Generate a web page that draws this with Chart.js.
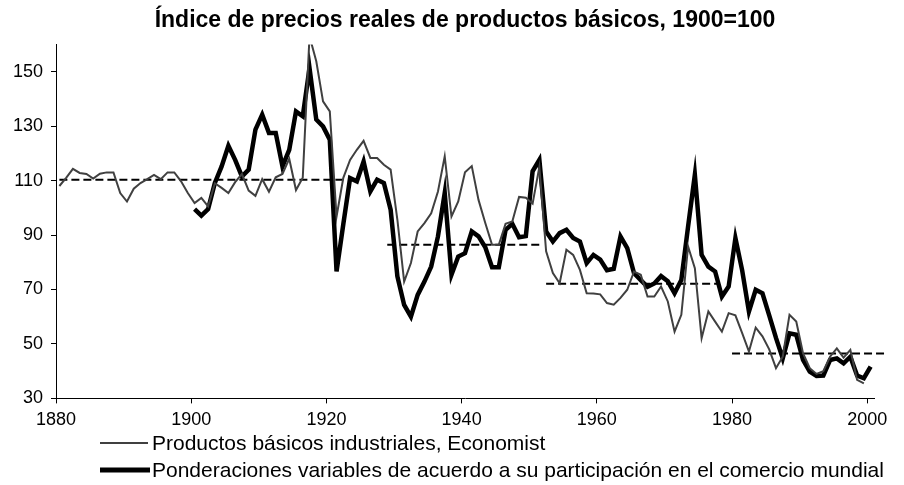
<!DOCTYPE html>
<html>
<head>
<meta charset="utf-8">
<script src="https://cdn.jsdelivr.net/npm/chart.js@4/dist/chart.umd.min.js"></script>
<style>
    html, body { margin: 0; padding: 0; background: #fff; }
    #wrap { width: 904px; height: 485px; }
</style>
</head>
<body>
<div id="wrap"><canvas id="chart" width="904" height="485"></canvas></div>
<script>
const firstYear = 1880;
const xTicks = [1880, 1900, 1920, 1940, 1960, 1980, 2000];
const yTicks = [30, 50, 70, 90, 110, 130, 150];

// Productos básicos industriales, Economist (1880-1999)
const economist = [
    108, 111, 114.3, 112.8, 112.4, 110.7, 112.5, 113, 113, 105.4,
    102.3, 107, 109.1, 110.5, 112.1, 110.5, 113, 113, 109.7, 105.4,
    101.7, 103.6, 100.5, 109, 107.3, 105.4, 109.4, 112.4, 106.3, 104.4,
    110.5, 105.9, 111.2, 112.4, 118, 106.5, 111, 163, 153.8, 139.1,
    135.4, 96.8, 111, 117.6, 121.3, 124.6, 118.3, 118.3, 115.8, 114,
    95.6, 72.9, 79.7, 91.3, 94.4, 98, 106, 118.9, 96.8, 102.3,
    113, 115.3, 102.9, 94.4, 86.4, 86.4, 94.1, 95, 104, 103.7,
    101.5, 115, 84, 76, 72.3, 84.6, 82.7, 77.2, 68.6, 68.5,
    68.2, 65, 64.4, 66.9, 69.9, 76.6, 75.4, 67.4, 67.4, 71.1,
    65.6, 54.5, 60.7, 85.8, 77.8, 52.1, 61.9, 58.2, 54.5, 61.3,
    60.5, 54, 47.2, 56, 52.8, 48, 41.1, 45.3, 60.7, 58.2,
    46.6, 41.1, 39, 40, 45.3, 48.4, 45, 47.8, 36.8, 35.5,
    null
];

// Ponderaciones variables (1900-2000)
const weighted = [
    null, null, null, null, null, null, null, null, null, null,
    null, null, null, null, null, null, null, null, null, null,
    99.5, 97.1, 99.5, 109.1, 115.2, 122.8, 117.6, 111.5, 114, 128.7,
    134.2, 127.5, 127.5, 115.2, 121.3, 135.4, 133.6, 151.3, 132.4, 129.9,
    125, 76.6, 94, 110.9, 109.7, 117, 106, 110.3, 109.1, 99.3,
    74.8, 64.3, 60, 68, 72.9, 78.4, 89.5, 105.4, 75.4, 82.1,
    83.3, 91.3, 89.5, 85.5, 78.2, 78.2, 91.9, 94.1, 89.2, 89.6,
    113.4, 117.6, 91.3, 87.6, 90.7, 91.9, 88.9, 87.6, 79.7, 82.7,
    81, 77.1, 77.6, 89.5, 85.2, 76, 73.4, 71, 72.2, 74.9,
    73, 68.6, 73.5, 93.1, 112.1, 82.7, 78.4, 76.6, 67.4, 71.1,
    88.9, 77, 61.9, 69.9, 68.6, 60.5, 52.2, 44.7, 53.9, 53.4,
    44.1, 39.8, 38.2, 38.4, 44.1, 44.7, 42.9, 45.3, 38.4, 37.4,
    41.7
];

// period averages (dashed)
const avgValues = [110.3, 86.4, 72.1, 46.5];
const avgStart = [1880.5, 1929, 1952.5, 1980];
const avgEnd = [1922.5, 1951.5, 1978, 2003];

const legendLabels = [
    "Productos básicos industriales, Economist",
    "Ponderaciones variables de acuerdo a su participación en el comercio mundial"
];

const fontFamily = "'Liberation Sans', Arial, sans-serif";

// each year plotted at the middle of its slot, like the original category axis
const toPoints = (values) => values.map((v, i) => ({ x: firstYear + i + 0.5, y: v }));

const avgPoints = [];
avgValues.forEach((v, i) => {
    avgPoints.push({ x: avgStart[i], y: v });
    avgPoints.push({ x: avgEnd[i], y: v });
    avgPoints.push({ x: avgEnd[i], y: null });
});

const legendPlugin = {
    id: "bottomLegend",
    afterDraw(chart) {
        const ctx = chart.ctx;
        const rows = [
            { color: "#404040", width: 2, y: 443, x1: 100, x2: 148 },
            { color: "#000000", width: 5, y: 470, x1: 100, x2: 150 }
        ];
        ctx.save();
        ctx.font = "21px " + fontFamily;
        ctx.textBaseline = "middle";
        ctx.fillStyle = "#000";
        rows.forEach((row, i) => {
            ctx.beginPath();
            ctx.strokeStyle = row.color;
            ctx.lineWidth = row.width;
            ctx.moveTo(row.x1, row.y);
            ctx.lineTo(row.x2, row.y);
            ctx.stroke();
            ctx.fillText(legendLabels[i], 152, row.y + 1);
        });
        ctx.restore();
    }
};

new Chart(document.getElementById("chart"), {
    type: "line",
    data: {
        datasets: [
            {
                label: legendLabels[0],
                data: toPoints(economist),
                borderColor: "#404040",
                borderWidth: 2,
                pointRadius: 0,
                tension: 0,
                spanGaps: false
            },
            {
                label: legendLabels[1],
                data: toPoints(weighted),
                borderColor: "#000000",
                borderWidth: 4.5,
                pointRadius: 0,
                tension: 0,
                spanGaps: false
            },
            {
                label: "promedio",
                data: avgPoints,
                borderColor: "#000000",
                borderWidth: 2,
                borderDash: [8, 4],
                pointRadius: 0,
                spanGaps: false,
                clip: false
            }
        ]
    },
    options: {
        responsive: false,
        animation: false,
        layout: {
            padding: { left: 0, right: 30, top: 0, bottom: 56.6 }
        },
        plugins: {
            legend: { display: false },
            tooltip: { enabled: false },
            title: {
                display: true,
                fullSize: false,
                text: "Índice de precios reales de productos básicos, 1900=100",
                color: "#000",
                font: { family: fontFamily, size: 23, weight: "bold", lineHeight: 1.2 },
                padding: { top: 7, bottom: 9.8 }
            }
        },
        scales: {
            x: {
                type: "linear",
                min: 1880,
                max: 2001,
                afterBuildTicks: (scale) => {
                    scale.ticks = xTicks.map((v) => ({ value: v }));
                },
                afterFit: (scale) => {
                    scale.height = 30;
                },
                grid: { drawOnChartArea: false, drawTicks: true, tickLength: 5, color: "#000" },
                border: { color: "#000", width: 1 },
                ticks: {
                    color: "#000",
                    font: { family: fontFamily, size: 18 },
                    padding: 6,
                    maxRotation: 0,
                    callback: (v) => String(v)
                }
            },
            y: {
                min: 30,
                max: 160,
                afterBuildTicks: (scale) => {
                    scale.ticks = yTicks.map((v) => ({ value: v }));
                },
                afterFit: (scale) => {
                    scale.width = 56;
                },
                grid: { drawOnChartArea: false, drawTicks: true, tickLength: 5, color: "#000" },
                border: { color: "#000", width: 1 },
                ticks: {
                    color: "#000",
                    font: { family: fontFamily, size: 18 },
                    padding: 8
                }
            }
        }
    },
    plugins: [legendPlugin]
});
</script>
</body>
</html>
